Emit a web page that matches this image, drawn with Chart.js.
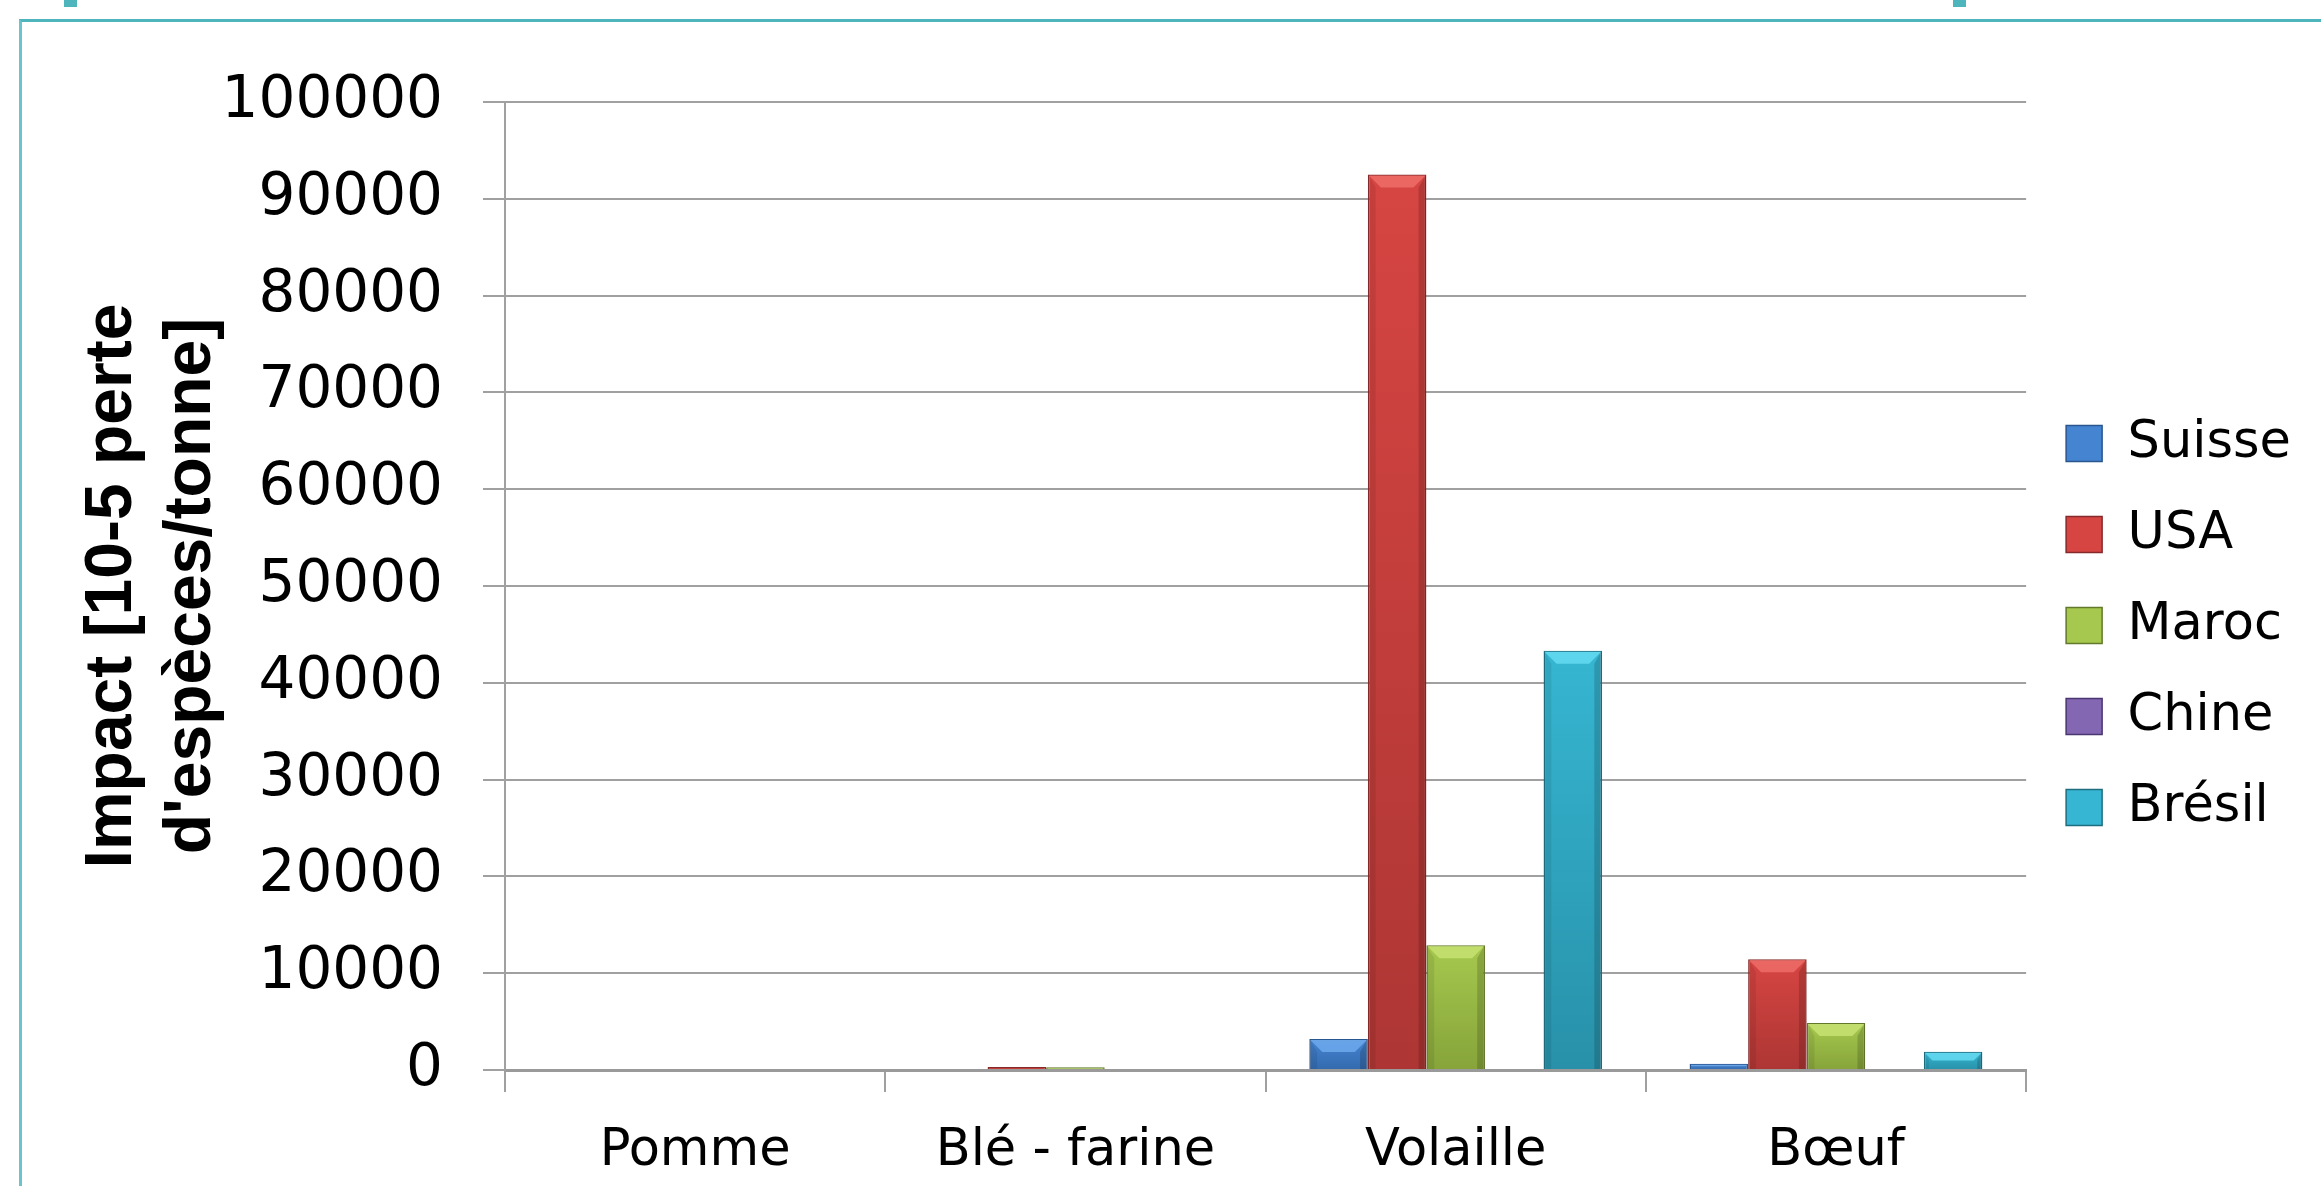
<!DOCTYPE html>
<html lang="fr">
<head>
<meta charset="UTF-8">
<title>Impact - perte d'espèces</title>
<script src="https://cdn.jsdelivr.net/npm/chart.js@4.4.0/dist/chart.umd.min.js"></script>
<style>
  html, body { margin: 0; padding: 0; background: #fff; overflow: hidden; }
  #wrap { position: relative; width: 2321px; height: 1186px; }
  .frame { position: absolute; left: 19px; top: 19px; right: 0; bottom: 0;
           border-top: 3px solid #4fb5bd; border-left: 3px solid #6cc3ca; }
  .mark { position: absolute; top: 0; width: 13px; height: 7px; background: #4fb5bd; }
  canvas { position: absolute; left: 0; top: 0; }
</style>
</head>
<body>
<div id="wrap">
  <div class="frame"></div>
  <div class="mark" style="left:64px"></div>
  <div class="mark" style="left:1953px"></div>
  <canvas id="chart"></canvas>
</div>
<script>
// data
const categories = ['Pomme', 'Blé - farine', 'Volaille', 'Bœuf'];
const seriesNames = ['Suisse', 'USA', 'Maroc', 'Chine', 'Brésil'];
const suisse = [0, 0, 3200, 650];
const usa = [0, 300, 92500, 11450];
const maroc = [0, 280, 12900, 4850];
const chine = [0, 0, 0, 0];
const bresil = [0, 0, 43300, 1880];
const yMin = 0, yMax = 100000, yStep = 10000;
const yTitle = ['Impact [10-5 perte', "d'espèces/tonne]"];

// colours: top of bar, bottom of bar, bevel highlight, outline
const colTop = ['#4584d0', '#d64542', '#a6c84e', '#8467b3', '#36b6d2'];
const colBottom = ['#336aae', '#ad3634', '#86a43a', '#654b90', '#2891a9'];
const colLight = ['#6aa6ea', '#ec6a66', '#c4e070', '#a98ed6', '#62d8ee'];
const colLine = ['#2a5690', '#86292a', '#62782a', '#4a3670', '#1e6e80'];

const values = [suisse, usa, maroc, chine, bresil];

const gradFill = i => ctx => {
  const chart = ctx.chart;
  const y = chart.scales.y;
  if (ctx.type !== 'data' || !y || !ctx.raw) return colTop[i];
  const top = y.getPixelForValue(ctx.raw);
  const bottom = y.getPixelForValue(0);
  if (bottom - top < 2) return colTop[i];
  const g = chart.ctx.createLinearGradient(0, top, 0, bottom);
  g.addColorStop(0, colTop[i]);
  g.addColorStop(1, colBottom[i]);
  return g;
};

// bevelled top like the office 3D bars
const bevel = {
  id: 'bevel',
  afterDatasetsDraw(chart) {
    const ctx = chart.ctx;
    chart.data.datasets.forEach((ds, i) => {
      const meta = chart.getDatasetMeta(i);
      if (meta.hidden) return;
      meta.data.forEach(bar => {
        const { x, y, base, width } = bar.getProps(['x', 'y', 'base', 'width'], true);
        const h = base - y;
        if (h < 3) return;
        const l = x - width / 2, r = x + width / 2;
        const b = Math.min(13, h / 2, width / 4);
        ctx.save();
        ctx.globalAlpha = 0.9;
        ctx.fillStyle = colLight[i];
        ctx.beginPath();
        ctx.moveTo(l + 1, y + 1); ctx.lineTo(r - 1, y + 1);
        ctx.lineTo(r - b, y + b); ctx.lineTo(l + b, y + b);
        ctx.closePath();
        ctx.fill();
        ctx.globalAlpha = 0.16;
        ctx.fillStyle = '#000';
        ctx.beginPath();
        ctx.moveTo(r - 1, y + 1); ctx.lineTo(r - 1, base); ctx.lineTo(r - b * 0.6, base); ctx.lineTo(r - b * 0.6, y + b);
        ctx.closePath();
        ctx.fill();
        ctx.globalAlpha = 0.08;
        ctx.beginPath();
        ctx.moveTo(l + 1, y + 1); ctx.lineTo(l + 1, base); ctx.lineTo(l + b * 0.6, base); ctx.lineTo(l + b * 0.6, y + b);
        ctx.closePath();
        ctx.fill();
        ctx.restore();
      });
    });
  }
};

const datasets = seriesNames.map((name, i) => ({
  label: name,
  data: values[i],
  backgroundColor: gradFill(i),
  borderColor: colLine[i],
  borderWidth: 1.5,
  categoryPercentage: 0.77,
  barPercentage: 1
}));

const tickFont = { family: 'DejaVu Sans', size: 58 };
const labelFont = { family: 'DejaVu Sans', size: 51 };

new Chart(document.getElementById('chart'), {
  type: 'bar',
  data: { labels: categories, datasets: datasets },
  options: {
    responsive: true,
    maintainAspectRatio: false,
    animation: false,
    layout: { padding: { left: 73, top: 102, right: 20, bottom: 4 } },
    plugins: {
      tooltip: { enabled: false },
      legend: {
        position: 'right',
        align: 'start',
        // empty title only used to push the items down to where they sit in the original
        title: { display: true, text: '', font: { size: 10, lineHeight: 1 }, padding: { top: 266, bottom: 0 } },
        labels: { font: labelFont, color: '#000', boxWidth: 36, boxHeight: 36, padding: 40 }
      }
    },
    scales: {
      x: {
        grid: { offset: true, drawOnChartArea: false, color: '#a0a0a0', lineWidth: 2, tickLength: 22 },
        border: { color: '#9a9a9a', width: 3 },
        ticks: { font: labelFont, color: '#000', padding: 29, maxRotation: 0, autoSkip: false },
        afterFit: s => { s.height = 112; }
      },
      y: {
        min: yMin,
        max: yMax,
        ticks: { stepSize: yStep, font: tickFont, color: '#000', padding: 40, callback: v => String(v) },
        grid: { color: '#a0a0a0', lineWidth: 2, tickLength: 22 },
        border: { color: '#a0a0a0', width: 2 },
        title: {
          display: true,
          text: yTitle,
          font: { family: 'Liberation Sans', size: 66, weight: 'bold' },
          color: '#000',
          padding: 0
        },
        afterFit: s => { s.width = 432; }
      }
    }
  },
  plugins: [bevel]
});
</script>
</body>
</html>
